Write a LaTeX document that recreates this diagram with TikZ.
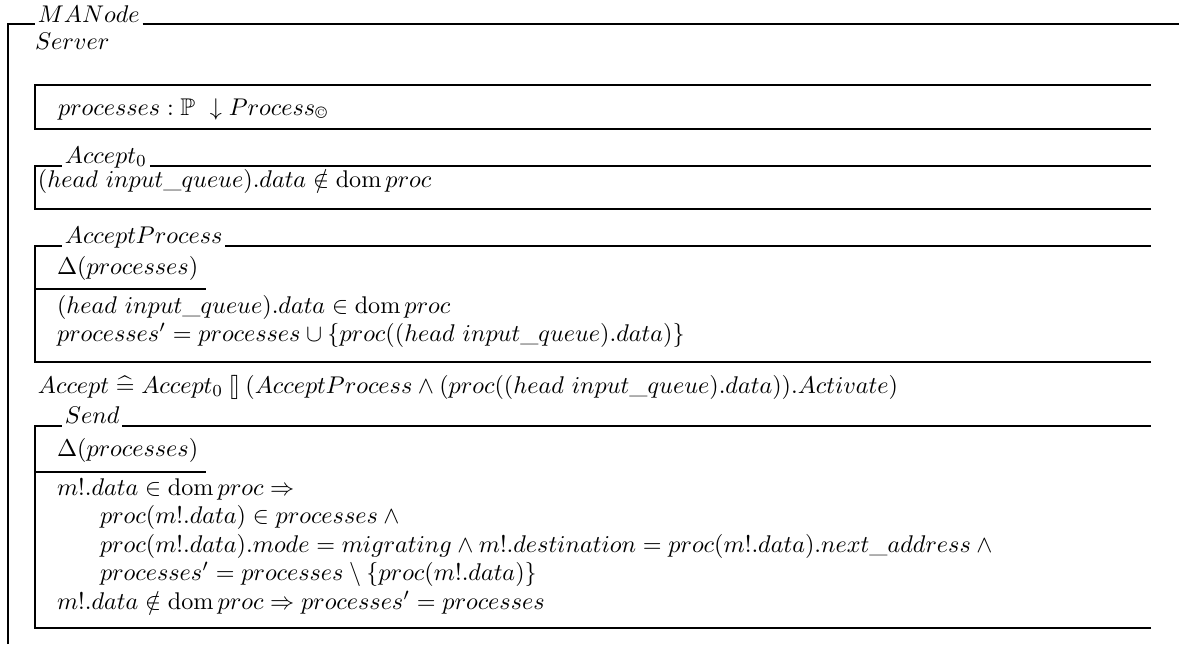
\documentclass[tikz,border=0pt]{standalone}
\usepackage{amsmath,amssymb}
\newcommand{\zdom}{\mathop{\mathrm{dom}}}
\newcommand{\zchoice}{\mathbin{[\mkern-1.5mu]}}
\newcommand{\zdefs}{\mathrel{\widehat{=}}}
\begin{document}
\begin{tikzpicture}[x=0.414pt,y=-0.414pt,line width=0.95pt,
  txt/.style={anchor=base west,inner sep=0pt,outer sep=0pt},
  ttl/.style={anchor=base west,inner xsep=1.2pt,inner ysep=0pt,outer sep=0pt}]
\useasboundingbox (0,0) rectangle (1179,644);

% ---- class frame MANode ----
\coordinate (oTL) at (8,24);
\coordinate (oTR) at (1179,24);
\coordinate (oBL) at (8,644);
\node[ttl] (tMANode) at (35,23) {$MANode$};
\draw (oBL) -- (oTL) -- (tMANode.west |- oTL);
\draw (tMANode.east |- oTL) -- (oTR);
\node[txt] (inh) at (35,50) {$Server$};

% ---- state schema ----
\coordinate (sTL) at (35,85);
\coordinate (sTR) at (1151,85);
\coordinate (sBL) at (35,129);
\coordinate (sBR) at (1151,129);
\draw (sTR) -- (sTL) -- (sBL) -- (sBR);
\node[txt] (state) at (58,115) {$processes : \mathbb{P}\ \downarrow Process_{\text{\textcopyright}}$};

% ---- Accept_0 ----
\coordinate (aTL) at (35,166);
\coordinate (aTR) at (1151,166);
\coordinate (aBL) at (35,209);
\coordinate (aBR) at (1151,209);
\node[ttl] (tA0) at (62,163) {$Accept_0$};
\draw (aBR) -- (aBL) -- (aTL) -- (tA0.west |- aTL);
\draw (tA0.east |- aTL) -- (aTR);
\node[txt] (a0p) at (38,187) {$(head\ input\_queue).data \notin \zdom proc$};

% ---- AcceptProcess ----
\coordinate (pTL) at (35,246);
\coordinate (pTR) at (1151,246);
\coordinate (pBL) at (35,362);
\coordinate (pBR) at (1151,362);
\coordinate (pSL) at (35,289);
\coordinate (pSR) at (206,289);
\node[ttl] (tAP) at (62,243) {$AcceptProcess$};
\draw (pBR) -- (pBL) -- (pTL) -- (tAP.west |- pTL);
\draw (tAP.east |- pTL) -- (pTR);
\draw (pSL) -- (pSR);
\node[txt] (apd) at (57,274) {$\Delta(processes)$};
\node[txt] (ap1) at (57,313) {$(head\ input\_queue).data \in \zdom proc$};
\node[txt] (ap2) at (57,341) {$processes' = processes \cup \{proc((head\ input\_queue).data)\}$};

% ---- Accept operation ----
\node[txt] (acc) at (38,393) {$Accept \zdefs Accept_0 \zchoice (AcceptProcess \land (proc((head\ input\_queue).data)).Activate)$};

% ---- Send ----
\coordinate (dTL) at (35,426);
\coordinate (dTR) at (1151,426);
\coordinate (dBL) at (35,628);
\coordinate (dBR) at (1151,628);
\coordinate (dSL) at (35,472);
\coordinate (dSR) at (206,472);
\node[ttl] (tS) at (62,423) {$Send$};
\draw (dBR) -- (dBL) -- (dTL) -- (tS.west |- dTL);
\draw (tS.east |- dTL) -- (dTR);
\draw (dSL) -- (dSR);
\node[txt] (sd) at (57,456) {$\Delta(processes)$};
\node[txt] (s1) at (57,495) {$m!.data \in \zdom proc \Rightarrow{}$};
\node[txt] (s2) at (100,523.5) {$proc(m!.data) \in processes \land{}$};
\node[txt] (s3) at (100,552) {$proc(m!.data).mode = migrating \land m!.destination = proc(m!.data).next\_address \land{}$};
\node[txt] (s4) at (100,580.5) {$processes' = processes \setminus \{proc(m!.data)\}$};
\node[txt] (s5) at (57,609) {$m!.data \notin \zdom proc \Rightarrow processes' = processes$};
\end{tikzpicture}
\end{document}
